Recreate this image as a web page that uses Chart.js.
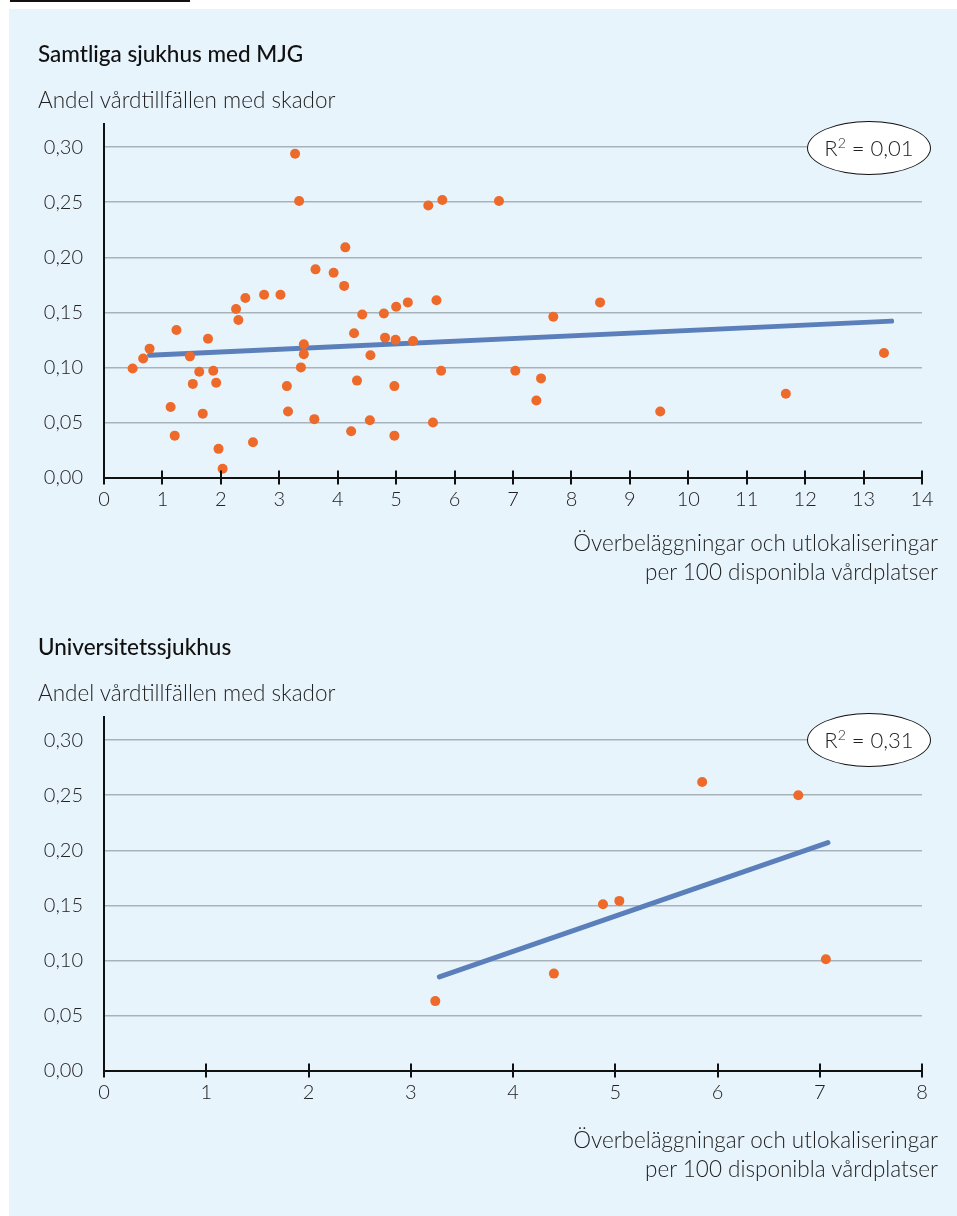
<!DOCTYPE html>
<html>
<head>
<meta charset="utf-8">
<script src="https://cdn.jsdelivr.net/npm/chart.js@4/dist/chart.umd.min.js"></script>
<style>
body { margin: 0; background: #fff; font-family: Lato, "Open Sans", sans-serif; }
#page { position: relative; width: 957px; height: 1216px; overflow: hidden; }
.rule { position: absolute; left: 10px; top: 0; width: 180px; height: 2px; background: #111; }
.panel { position: absolute; left: 9px; top: 9px; width: 948px; height: 1207px; background: #e8f4fc; }
canvas { position: absolute; left: 0; }
.txt { position: absolute; white-space: nowrap; color: #222; line-height: 29px; font-size: 22.5px; }
.title { left: 38px; font-weight: 500; color: #111; }
.ytitle { left: 38px; font-weight: 300; }
.xtitle { right: 19px; text-align: right; font-weight: 300; }
.r2 { position: absolute; left: 807px; width: 122px; height: 52px; border: 1.5px solid #111; border-radius: 50%;
      background: #fff; text-align: center; line-height: 52px; font-size: 22px; font-weight: 300; color: #222; }
.r2 sup { font-size: 14px; vertical-align: 8px; line-height: 0; }
</style>
</head>
<body>
<div id="page">
  <div class="rule"></div>
  <div class="panel"></div>
  <canvas id="chartAll" width="957" height="600" style="top:0"></canvas>
  <canvas id="chartUni" width="957" height="600" style="top:593px"></canvas>

  <div class="txt title" style="top:39px">Samtliga sjukhus med MJG</div>
  <div class="txt ytitle" style="top:85px">Andel vårdtillfällen med skador</div>
  <div class="txt xtitle" style="top:528px">Överbeläggningar och utlokaliseringar<br>per 100 disponibla vårdplatser</div>
  <div class="r2" style="top:121px">R<sup>2</sup> = 0,01</div>

  <div class="txt title" style="top:632px">Universitetssjukhus</div>
  <div class="txt ytitle" style="top:678px">Andel vårdtillfällen med skador</div>
  <div class="txt xtitle" style="top:1125px">Överbeläggningar och utlokaliseringar<br>per 100 disponibla vårdplatser</div>
  <div class="r2" style="top:713px">R<sup>2</sup> = 0,31</div>
</div>
<script>
// Samtliga sjukhus med MJG
const allX = [0.49, 0.67, 0.78, 1.24, 1.14, 1.21, 1.47, 1.52, 1.63, 1.69, 1.78, 1.87, 1.92, 1.96, 2.03,
  2.26, 2.30, 2.42, 2.74, 3.02, 2.55, 3.13, 3.15, 3.27, 3.34, 3.42, 3.42, 3.37, 3.60, 3.62, 3.93,
  4.13, 4.11, 4.28, 4.42, 4.33, 4.23, 4.56, 4.55, 4.79, 4.81, 5.00, 4.99, 4.97, 4.97, 5.20, 5.29,
  5.55, 5.79, 5.69, 5.77, 5.63, 6.76, 7.04, 7.48, 7.40, 7.69, 8.49, 9.52, 11.67, 13.35];
const allY = [0.099, 0.108, 0.117, 0.134, 0.064, 0.038, 0.110, 0.085, 0.096, 0.058, 0.126, 0.097, 0.086, 0.026, 0.008,
  0.153, 0.143, 0.163, 0.166, 0.166, 0.032, 0.083, 0.060, 0.294, 0.251, 0.121, 0.112, 0.100, 0.053, 0.189, 0.186,
  0.209, 0.174, 0.131, 0.148, 0.088, 0.042, 0.111, 0.052, 0.149, 0.127, 0.155, 0.125, 0.083, 0.038, 0.159, 0.124,
  0.247, 0.252, 0.161, 0.097, 0.050, 0.251, 0.097, 0.090, 0.070, 0.146, 0.159, 0.060, 0.076, 0.113];
const allFitX = [0.78, 13.48];
const allFitY = [0.111, 0.142];

// Universitetssjukhus
const uniX = [3.24, 4.40, 4.88, 5.04, 5.85, 6.79, 7.06];
const uniY = [0.063, 0.088, 0.151, 0.154, 0.262, 0.250, 0.101];
const uniFitX = [3.28, 7.08];
const uniFitY = [0.085, 0.207];

const yMin = 0, yMax = 0.321, yStep = 0.05;

const orange = '#ee6a2b';
const blue = '#5a7fba';
const ink = '#111';

// x tick marks crossing the axis line
const crossTicks = {
  id: 'crossTicks',
  afterDraw(chart) {
    const sx = chart.scales.x;
    const y0 = chart.chartArea.bottom;
    const ctx = chart.ctx;
    ctx.save();
    ctx.strokeStyle = ink;
    ctx.lineWidth = 2;
    sx.ticks.forEach(t => {
      const px = Math.round(sx.getPixelForValue(t.value));
      ctx.beginPath();
      ctx.moveTo(px, y0 - 7);
      ctx.lineTo(px, y0 + 7);
      ctx.stroke();
    });
    ctx.restore();
  }
};

function makeChart(id, xs, ys, fitX, fitY, xMax) {
  const ctx = document.getElementById(id).getContext('2d');
  return new Chart(ctx, {
    type: 'scatter',
    data: {
      datasets: [{
        data: xs.map((x, i) => ({ x: x, y: ys[i] })),
        backgroundColor: orange,
        borderWidth: 0,
        pointRadius: 5,
        order: 0
      }, {
        type: 'line',
        data: fitX.map((x, i) => ({ x: x, y: fitY[i] })),
        borderColor: blue,
        borderWidth: 5,
        borderCapStyle: 'round',
        pointRadius: 0,
        fill: false,
        order: 1
      }]
    },
    options: {
      responsive: false,
      animation: false,
      layout: { padding: { top: 124, right: 35, left: 0, bottom: 0 } },
      plugins: { legend: { display: false }, tooltip: { enabled: false } },
      scales: {
        x: {
          type: 'linear',
          min: 0,
          max: xMax,
          ticks: { stepSize: 1, color: '#222', padding: 10, font: { family: 'Lato', size: 20, weight: 300 } },
          grid: { drawOnChartArea: false, drawTicks: false },
          border: { color: ink, width: 2 },
          afterFit: s => { s.height = 122.5; }
        },
        y: {
          min: yMin,
          max: yMax,
          ticks: {
            stepSize: yStep,
            includeBounds: false,
            color: '#222',
            padding: 21,
            font: { family: 'Lato', size: 20, weight: 300 },
            callback: v => v.toFixed(2).replace('.', ',')
          },
          grid: { color: '#a8b2ba', lineWidth: 1.5, drawTicks: false },
          border: { color: ink, width: 2 },
          afterFit: s => { s.width = 104; }
        }
      }
    },
    plugins: [crossTicks]
  });
}

window.onload = function() {
  makeChart('chartAll', allX, allY, allFitX, allFitY, 14);
  makeChart('chartUni', uniX, uniY, uniFitX, uniFitY, 8);
};
</script>
</body>
</html>
